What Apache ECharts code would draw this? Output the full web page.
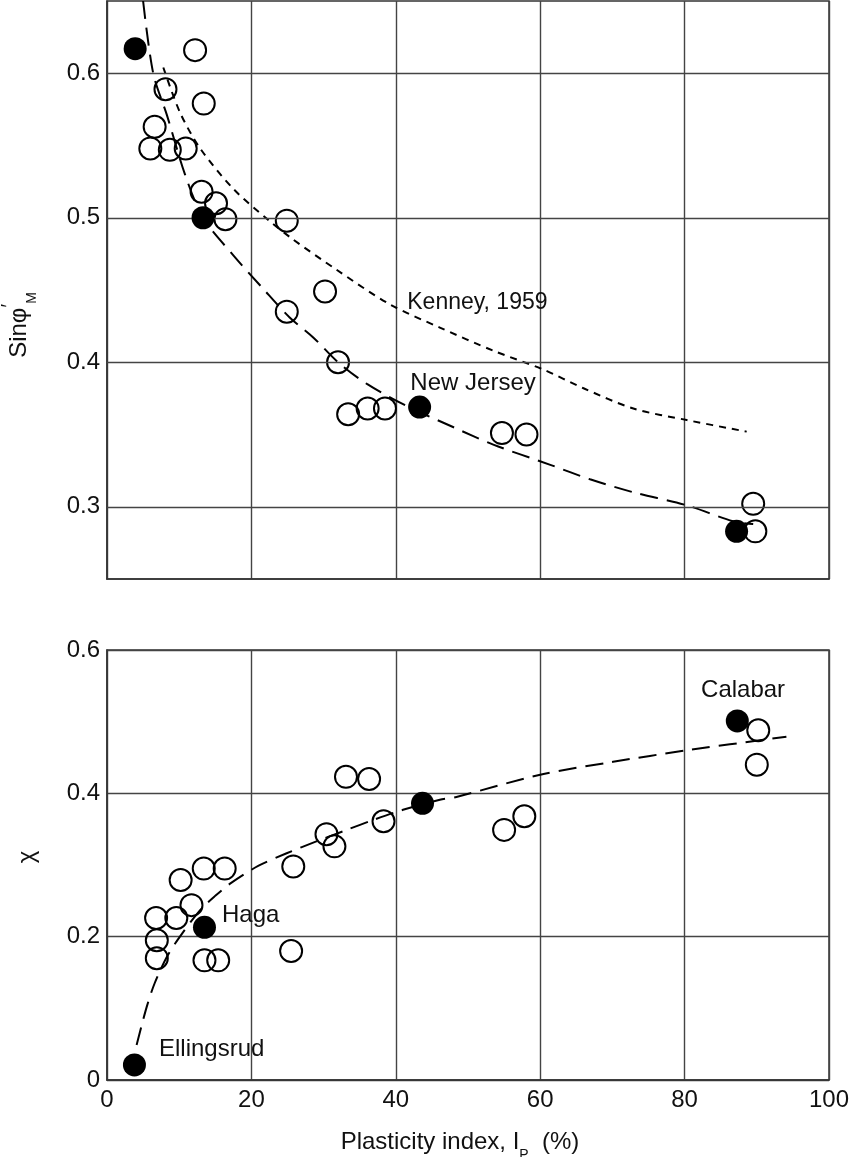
<!DOCTYPE html>
<html>
<head>
<meta charset="utf-8">
<script src="https://cdn.jsdelivr.net/npm/echarts@6/dist/echarts.min.js"></script>
<style>
html,body{margin:0;padding:0;background:#fff;}
#c{width:853px;height:1157px;}
</style>
</head>
<body>
<div id="c"></div>
<script>
// ---------- DATA ----------
const xTicks = [0, 20, 40, 60, 80, 100];
const topYTicks = [0.3, 0.4, 0.5, 0.6];
const botYTicks = [0, 0.2, 0.4, 0.6];

// Top panel: sin(phi'_M) vs plasticity index
const topOpenIp  = [12.2, 8.1, 13.4, 6.6, 6.0, 8.7, 10.9, 13.1, 15.1, 16.4, 24.9, 30.2, 24.9, 32.0, 33.4, 36.1, 38.5, 54.7, 58.1, 89.5, 89.8];
const topOpenSin = [0.616, 0.589, 0.579, 0.563, 0.548, 0.547, 0.548, 0.518, 0.510, 0.499, 0.498, 0.449, 0.435, 0.400, 0.364, 0.368, 0.368, 0.351, 0.350, 0.302, 0.283];
const topFilledIp  = [3.9, 13.3, 43.3, 87.2];
const topFilledSin = [0.617, 0.500, 0.369, 0.283];

// fitted trend (dashed)
const topFitIp  = [5.0, 6.4, 8.3, 10.8, 13.3, 17.5, 21.6, 25.3, 28.6, 32.0, 36.0, 41.4, 48.0, 53.5, 61.4, 66.9, 72.9, 80.3, 86.7, 89.5];
const topFitSin = [0.650, 0.600, 0.571, 0.530, 0.500, 0.474, 0.451, 0.431, 0.417, 0.400, 0.385, 0.370, 0.355, 0.343, 0.329, 0.319, 0.310, 0.301, 0.290, 0.288];

// Kenney, 1959 (dotted)
const kenIp  = [7.8, 10.1, 12.9, 17.5, 22.1, 25.5, 31.8, 39.2, 46.1, 53.5, 60.4, 66.0, 72.9, 80.3, 88.6];
const kenSin = [0.604, 0.573, 0.548, 0.520, 0.4995, 0.486, 0.464, 0.440, 0.424, 0.408, 0.395, 0.382, 0.368, 0.360, 0.352];

// Bottom panel: chi vs plasticity index
const botOpenIp  = [10.2, 13.4, 16.3, 11.7, 6.8, 9.6, 6.9, 6.9, 13.5, 15.4, 25.5, 25.8, 33.1, 36.3, 30.4, 31.5, 38.3, 55.0, 57.8, 90.2, 90.0];
const botOpenChi = [0.279, 0.295, 0.295, 0.244, 0.226, 0.226, 0.195, 0.170, 0.167, 0.167, 0.180, 0.298, 0.423, 0.420, 0.343, 0.326, 0.361, 0.349, 0.368, 0.488, 0.440];
const botFilledIp  = [3.8, 13.5, 43.7, 87.3];
const botFilledChi = [0.021, 0.213, 0.386, 0.501];

const botFitIp  = [4.1, 5.5, 6.6, 8.3, 10.1, 12.9, 15.0, 17.2, 21.0, 24.8, 29.0, 33.2, 36.9, 41.0, 46.1, 48.4, 60.0, 70.1, 80.3, 94.1];
const botFitChi = [0.049, 0.102, 0.135, 0.172, 0.200, 0.237, 0.257, 0.275, 0.299, 0.316, 0.333, 0.349, 0.363, 0.377, 0.391, 0.395, 0.426, 0.444, 0.460, 0.479];

// annotation texts with anchor in data units
const topNotes   = ['Kenney, 1959', 'New Jersey'];
const topNotesIp = [51.3, 50.7];
const topNotesY  = [0.441, 0.3857];
const botNotes   = ['Calabar', 'Haga', 'Ellingsrud'];
const botNotesIp = [88.1, 19.9, 14.5];
const botNotesY  = [0.544, 0.230, 0.043];

// ---------- CHART ----------
const zip = (a, b) => a.map((v, i) => [v, b[i]]);
const FONT = '"Liberation Sans", Arial, Helvetica, sans-serif';
const INK = '#000';
const TXT = '#111';
const GRIDC = '#444';

const chart = echarts.init(document.getElementById('c'), null, {renderer: 'canvas'});

const xAxisBase = {
  type: 'value', min: 0, max: 100, interval: 20,
  axisLine: {show: true, lineStyle: {color: '#333', width: 1.5}},
  axisTick: {show: false},
  splitLine: {show: true, lineStyle: {color: GRIDC, width: 1.4}},
};

const openStyle = {color: 'rgba(0,0,0,0)', borderColor: INK, borderWidth: 2, opacity: 1};

const option = {
  animation: false,
  backgroundColor: '#fff',
  grid: [
    {left: 107, right: 24, top: 1, height: 578, show: true, borderColor: '#333', borderWidth: 1.5, backgroundColor: 'transparent'},
    {left: 107, right: 24, top: 650, height: 430, show: true, borderColor: '#333', borderWidth: 1.5, backgroundColor: 'transparent'}
  ],
  xAxis: [
    Object.assign({}, xAxisBase, {gridIndex: 0, axisLabel: {show: false}}),
    Object.assign({}, xAxisBase, {gridIndex: 1, axisLabel: {show: true, margin: 8, color: TXT, fontSize: 24, fontFamily: FONT,
      formatter: v => xTicks.indexOf(v) >= 0 ? String(v) : ''}})
  ],
  yAxis: [
    {gridIndex: 0, type: 'value', min: 0.25, max: 0.65, interval: 0.05,
     axisLine: {show: true, lineStyle: {color: '#333', width: 1.5}},
     axisTick: {show: false},
     splitLine: {show: false},
     axisLabel: {margin: 7, color: TXT, fontSize: 24, fontFamily: FONT,
       formatter: v => topYTicks.some(t => Math.abs(t - v) < 1e-6) ? v.toFixed(1) : ''}},
    {gridIndex: 1, type: 'value', min: 0, max: 0.6, interval: 0.2,
     axisLine: {show: true, lineStyle: {color: '#333', width: 1.5}},
     axisTick: {show: false},
     splitLine: {show: true, lineStyle: {color: GRIDC, width: 1.4}},
     axisLabel: {margin: 7, color: TXT, fontSize: 24, fontFamily: FONT,
       formatter: v => botYTicks.some(t => Math.abs(t - v) < 1e-6) ? (v === 0 ? '0' : v.toFixed(1)) : ''}}
  ],
  series: [
    // top gridlines at labelled ticks
    {type: 'line', xAxisIndex: 0, yAxisIndex: 0, data: [], z: 1, silent: true,
     markLine: {silent: true, symbol: ['none', 'none'], label: {show: false},
       lineStyle: {color: GRIDC, width: 1.4, type: 'solid', opacity: 1},
       emphasis: {disabled: true},
       data: topYTicks.map(v => ({yAxis: v}))}},
    {type: 'line', xAxisIndex: 0, yAxisIndex: 0, data: zip(topFitIp, topFitSin), smooth: 0.3,
     showSymbol: false, symbol: 'none', lineStyle: {color: INK, width: 2, type: [18, 9]}, z: 3},
    {type: 'line', xAxisIndex: 0, yAxisIndex: 0, data: zip(kenIp, kenSin), smooth: 0.3,
     showSymbol: false, symbol: 'none', lineStyle: {color: INK, width: 2, type: [7, 6]}, z: 3},
    {type: 'scatter', xAxisIndex: 0, yAxisIndex: 0, data: zip(topOpenIp, topOpenSin),
     symbol: 'circle', symbolSize: 22, itemStyle: openStyle, z: 4},
    {type: 'scatter', xAxisIndex: 0, yAxisIndex: 0, data: zip(topFilledIp, topFilledSin),
     symbol: 'circle', symbolSize: 23, itemStyle: {color: '#000', opacity: 1}, z: 5},

    {type: 'line', xAxisIndex: 1, yAxisIndex: 1, data: zip(botFitIp, botFitChi), smooth: 0.3,
     showSymbol: false, symbol: 'none', lineStyle: {color: INK, width: 2, type: [18, 9]}, z: 3},
    {type: 'scatter', xAxisIndex: 1, yAxisIndex: 1, data: zip(botOpenIp, botOpenChi),
     symbol: 'circle', symbolSize: 22, itemStyle: openStyle, z: 4},
    {type: 'scatter', xAxisIndex: 1, yAxisIndex: 1, data: zip(botFilledIp, botFilledChi),
     symbol: 'circle', symbolSize: 23, itemStyle: {color: '#000', opacity: 1}, z: 5}
  ]
};

chart.setOption(option);

// annotations placed through the chart's own scales
const notes = [];
topNotes.forEach((t, i) => {
  const p = chart.convertToPixel({xAxisIndex: 0, yAxisIndex: 0}, [topNotesIp[i], topNotesY[i]]);
  notes.push({type: 'text', x: p[0], y: p[1], z: 10, silent: true,
    style: {text: t, align: 'center', verticalAlign: 'middle', fill: TXT, font: (i === 0 ? 23 : 24) + 'px ' + FONT}});
});
botNotes.forEach((t, i) => {
  const p = chart.convertToPixel({xAxisIndex: 1, yAxisIndex: 1}, [botNotesIp[i], botNotesY[i]]);
  notes.push({type: 'text', x: p[0], y: p[1], z: 10, silent: true,
    style: {text: t, align: 'center', verticalAlign: 'middle', fill: TXT, font: '24px ' + FONT}});
});

notes.push(
  {type: 'text', x: 19, y: 325, rotation: Math.PI / 2, z: 10, silent: true,
   style: {text: '{a|Sinφ}{p|\u2032}{m|M}', align: 'center', verticalAlign: 'middle',
     fill: TXT, font: '24px ' + FONT,
     rich: {a: {fontSize: 24, fontFamily: FONT, fill: TXT, lineHeight: 40, verticalAlign: 'middle'},
            p: {fontSize: 20, fontFamily: FONT, fill: TXT, lineHeight: 40, verticalAlign: 'top'},
            m: {fontSize: 14, fontFamily: FONT, fill: TXT, lineHeight: 40, verticalAlign: 'bottom'}}}},
  {type: 'text', x: 27, y: 857, rotation: Math.PI / 2, z: 10, silent: true,
   style: {text: 'χ', align: 'center', verticalAlign: 'middle', fill: TXT, font: '24px ' + FONT}},
  {type: 'text', x: 460, y: 1142, z: 10, silent: true,
   style: {text: '{a|Plasticity index, I}{s|P}{a|  (%)}', align: 'center', verticalAlign: 'middle',
     fill: TXT, font: '24px ' + FONT,
     rich: {a: {fontSize: 24, fontFamily: FONT, fill: TXT, lineHeight: 40, verticalAlign: 'middle'},
            s: {fontSize: 14, fontFamily: FONT, fill: TXT, lineHeight: 40, verticalAlign: 'bottom'}}}}
);

chart.setOption({graphic: notes});
</script>
</body>
</html>
